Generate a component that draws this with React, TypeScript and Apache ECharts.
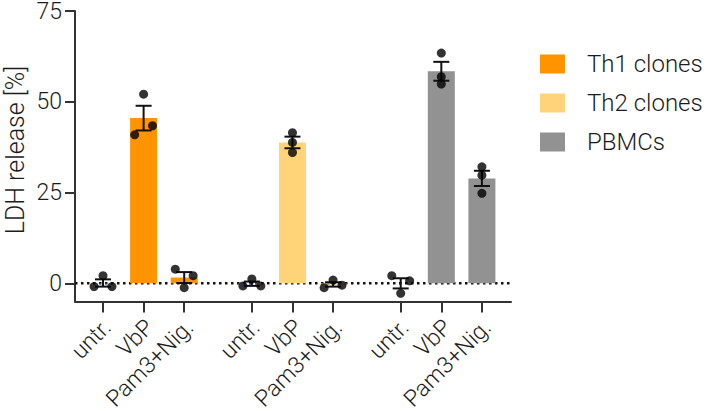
import React, { useEffect, useRef } from 'react';
import * as echarts from 'echarts';

// ---- data ----
const categories = ['untr.', 'VbP', 'Pam3+Nig.'];
const groups = ['Th1 clones', 'Th2 clones', 'PBMCs'];
const yTicks = [0, 25, 50, 75];
const yTitle = 'LDH release [%]';

const th1Means = [0.1, 45.5, 1.6];
const th2Means = [-0.1, 38.8, -0.3];
const pbmcMeans = [0.0, 58.4, 28.9];

const th1Sem = [1.0, 3.4, 1.5];
const th2Sem = [0.6, 1.6, 0.6];
const pbmcSem = [1.4, 2.6, 2.1];

const th1Points = [[2.1, -0.9, -0.9], [52.1, 43.4, 40.9], [3.9, 2.1, -1.2]];
const th2Points = [[-0.7, 1.2, -0.7], [41.5, 38.8, 36.0], [-1.2, 0.9, -0.5]];
const pbmcPoints = [[2.1, 0.7, -2.75], [63.4, 56.9, 54.9], [32.1, 29.8, 24.8]];

// jitter side of each replicate point (-1 left, 0 centre, 1 right)
const th1Jitter = [[0, -1, 1], [0, 1, -1], [-1, 1, 0]];
const th2Jitter = [[-1, 0, 1], [0, 0, 0], [-1, 0, 1]];
const pbmcJitter = [[-1, 1, 0], [0, 0, 0], [0, 0, 0]];

// ---- styling / layout ----
const colors = ['#FF9300', '#FFD479', '#929292'];
const FONT = 'Roboto';
const TEXT = '#1c1c1c';
const AXIS = '#333333';
const GROUP_STEP = 11 / 3;
const JITTER = 0.22;
const X_MIN = -0.69;
const X_MAX = 10.05;
const LABEL_SHIFT = [0.1, 0.15, 0.13]; // rotated label anchor nudge per category

const allMeans = [th1Means, th2Means, pbmcMeans];
const allSems = [th1Sem, th2Sem, pbmcSem];
const allPoints = [th1Points, th2Points, pbmcPoints];
const allJitter = [th1Jitter, th2Jitter, pbmcJitter];

const pos = (g: number, c: number) => g * GROUP_STEP + c;
const tickPositions: number[] = [];
const labelPositions: number[] = [];
const tickLabels: string[] = [];
groups.forEach((_, g) => categories.forEach((cat, c) => {
  tickPositions.push(pos(g, c));
  labelPositions.push(pos(g, c) + LABEL_SHIFT[c]);
  tickLabels.push(cat);
}));

export default function App() {
  const ref = useRef<HTMLDivElement>(null);
  useEffect(() => {
    if (!ref.current) return;
    const chart = echarts.init(ref.current, null, { renderer: 'svg' });

    const barSeries = groups.map((name, g) => ({
      name,
      type: 'bar',
      barWidth: 27,
      barGap: '-100%',
      z: 2,
      itemStyle: { color: colors[g] },
      data: categories.map((_, c) => [pos(g, c), allMeans[g][c]]),
    }));

    const errData: number[][] = [];
    const ptData: number[][] = [];
    groups.forEach((_, g) => categories.forEach((__, c) => {
      const m = allMeans[g][c], s = allSems[g][c];
      errData.push([pos(g, c), m - s, m + s]);
      allPoints[g][c].forEach((v, i) => ptData.push([pos(g, c) + allJitter[g][c][i] * JITTER, v]));
    }));

    const option: any = {
      animation: false,
      backgroundColor: '#ffffff',
      grid: { left: 75, right: 198, top: 11, bottom: 109.5, containLabel: false, outerBoundsMode: 'none' },
      graphic: [
        {
          type: 'text',
          x: 15,
          y: 150,
          rotation: Math.PI / 2,
          style: {
            text: yTitle,
            fontFamily: FONT,
            fontWeight: 300,
            fontSize: 25,
            fill: TEXT,
            textAlign: 'center',
            textVerticalAlign: 'middle',
          },
        },
      ],
      legend: {
        data: groups,
        orient: 'vertical',
        left: 540,
        top: 52,
        padding: 0,
        itemWidth: 25,
        itemHeight: 19,
        itemGap: 15,
        icon: 'rect',
        textStyle: { fontFamily: FONT, fontWeight: 300, fontSize: 24, color: TEXT, padding: [0, 0, 0, 17] },
      },
      xAxis: {
        type: 'value',
        min: X_MIN,
        max: X_MAX,
        splitLine: { show: false },
        axisLine: { show: true, onZero: false, lineStyle: { color: AXIS, width: 2 } },
        axisTick: { show: true, customValues: tickPositions, length: 11, lineStyle: { color: AXIS, width: 2 } },
        axisLabel: {
          customValues: labelPositions,
          rotate: 45,
          margin: 22,
          fontFamily: FONT,
          fontWeight: 300,
          fontSize: 23,
          color: TEXT,
          formatter: (v: number) => {
            const i = labelPositions.findIndex((p) => Math.abs(p - v) < 1e-6);
            return i >= 0 ? tickLabels[i] : '';
          },
        },
      },
      yAxis: {
        type: 'value',
        min: -5,
        max: 75,
        splitLine: { show: false },
        axisLine: { show: true, onZero: false, lineStyle: { color: AXIS, width: 2 } },
        axisTick: { show: true, customValues: yTicks, length: 10, lineStyle: { color: AXIS, width: 2 } },
        axisLabel: { customValues: yTicks, margin: 13, fontFamily: FONT, fontWeight: 300, fontSize: 23, lineHeight: 18, color: TEXT },
      },
      series: [
        {
          type: 'line',
          z: 1,
          symbol: 'none',
          silent: true,
          lineStyle: { color: '#111', width: 2.5, type: [2.5, 3.5] },
          data: [[X_MIN, 0], [X_MAX, 0]],
        },
        ...barSeries,
        {
          type: 'custom',
          z: 3,
          encode: { x: 0, y: [1, 2] },
          data: errData,
          renderItem: (_p: any, api: any) => {
            const x = api.value(0);
            const lo = api.coord([x, api.value(1)]);
            const hi = api.coord([x, api.value(2)]);
            const hw = 8;
            const style = { stroke: '#111', lineWidth: 2 };
            return {
              type: 'group',
              children: [
                { type: 'line', shape: { x1: lo[0], y1: lo[1], x2: hi[0], y2: hi[1] }, style },
                { type: 'line', shape: { x1: hi[0] - hw, y1: hi[1], x2: hi[0] + hw, y2: hi[1] }, style },
                { type: 'line', shape: { x1: lo[0] - hw, y1: lo[1], x2: lo[0] + hw, y2: lo[1] }, style },
              ],
            };
          },
        },
        {
          type: 'scatter',
          z: 4,
          symbol: 'circle',
          symbolSize: 9,
          itemStyle: { color: '#000' },
          data: ptData,
        },
      ],
    };
    chart.setOption(option);
    return () => chart.dispose();
  }, []);
  return <div ref={ref} style={{ position: 'fixed', left: 0, top: 0, width: 709, height: 411 }} />;
}
